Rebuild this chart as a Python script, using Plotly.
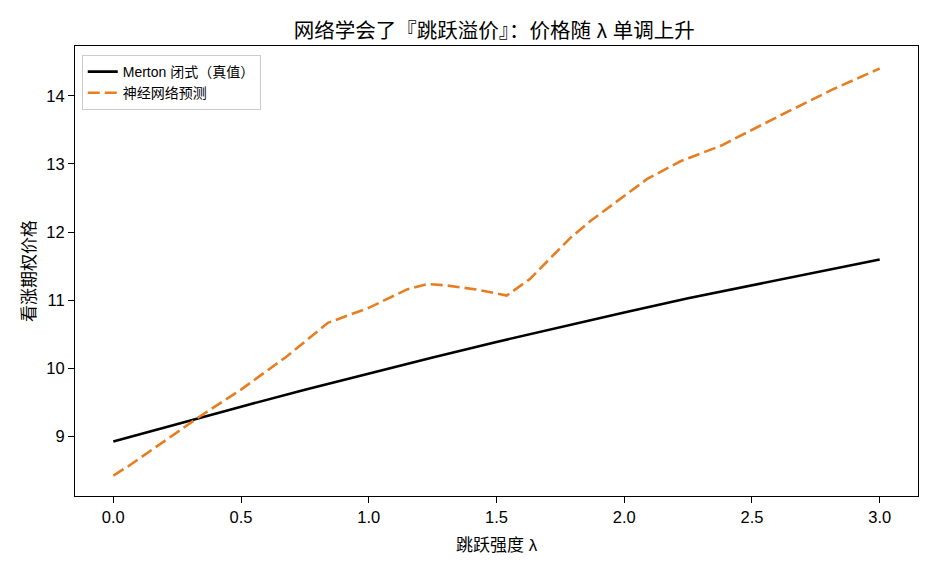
import plotly.graph_objects as go

# jump intensity grid for the closed-form Merton price
lam_exact = [0.0, 0.25, 0.5, 0.75, 1.0, 1.25, 1.5, 1.75, 2.0, 2.25, 2.5, 2.75, 3.0]
price_exact = [8.93, 9.19, 9.44, 9.69, 9.93, 10.16, 10.39, 10.61, 10.82, 11.03, 11.22, 11.42, 11.60]

# network prediction
lam_nn = [0.0, 0.06, 0.34, 0.50, 0.68, 0.84, 1.00, 1.15, 1.23, 1.30, 1.42, 1.54,
          1.63, 1.79, 1.87, 2.09, 2.22, 2.38, 2.61, 2.82, 3.00]
price_nn = [8.43, 8.57, 9.30, 9.69, 10.18, 10.67, 10.89, 11.16, 11.24, 11.22, 11.16, 11.07,
            11.31, 11.92, 12.17, 12.78, 13.04, 13.27, 13.71, 14.10, 14.40]

x_ticks = [0.0, 0.5, 1.0, 1.5, 2.0, 2.5, 3.0]
y_ticks = [9, 10, 11, 12, 13, 14]

FONT = "Liberation Sans, Noto Sans CJK SC"

fig = go.Figure()
fig.add_trace(go.Scatter(x=lam_exact, y=price_exact, mode="lines",
                         name="Merton 闭式（真值）",
                         line=dict(color="black", width=2.6)))
fig.add_trace(go.Scatter(x=lam_nn, y=price_nn, mode="lines",
                         name="神经网络预测",
                         line=dict(color="#e67e22", width=2.6, dash="12px,5px")))

axis_style = dict(showline=True, linecolor="black", linewidth=1, mirror=True,
                  ticks="outside", ticklen=6, tickcolor="black",
                  showgrid=False, zeroline=False, automargin=False,
                  tickfont=dict(size=16.5, color="black"))

fig.update_xaxes(range=[-0.15, 3.15], tickvals=x_ticks,
                 ticktext=[f"{v:.1f}" for v in x_ticks], **axis_style)
fig.update_yaxes(range=[8.13, 14.73], tickvals=y_ticks, **axis_style)

# axis labels placed like matplotlib's
fig.add_annotation(text="跳跃强度 λ", xref="paper", yref="paper",
                   x=0.5, y=-0.109, yanchor="middle", showarrow=False,
                   font=dict(size=17))
fig.add_annotation(text="看涨期权价格", xref="paper", yref="paper",
                   x=-0.0546, y=0.5, xanchor="center", yanchor="middle",
                   textangle=-90, showarrow=False, font=dict(size=17))

fig.update_layout(
    width=936, height=572,
    margin=dict(l=75, r=18, t=46, b=76, autoexpand=False),
    paper_bgcolor="white", plot_bgcolor="white",
    font=dict(family=FONT, color="black"),
    title=dict(text="网络学会了『跳跃溢价』：价格随 λ 单调上升",
               x=0.528, xanchor="center", y=0.9458, yanchor="middle",
               font=dict(size=20.5)),
    legend=dict(x=0.008, y=0.98, xanchor="left", yanchor="top",
                bgcolor="white", bordercolor="#cccccc", borderwidth=1,
                font=dict(size=14), tracegroupgap=0),
    showlegend=True,
)

# drop the page's default body margin so the figure sits at the window corner
fig.write_html("out.html", config={"displayModeBar": False},
               post_script="document.body.style.margin='0';")
